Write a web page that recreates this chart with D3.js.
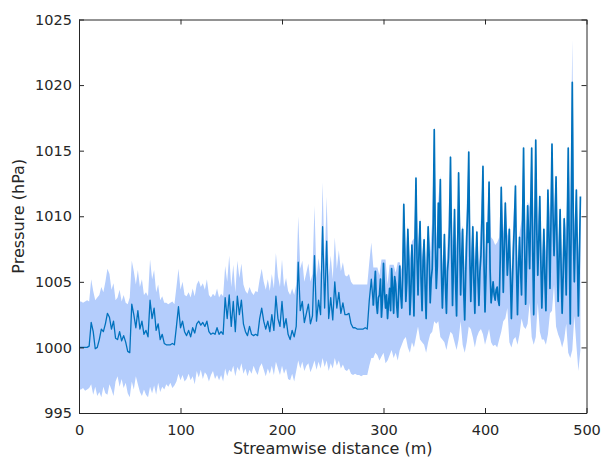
<!DOCTYPE html>
<html>
<head>
<meta charset="utf-8">
<script src="https://cdn.jsdelivr.net/npm/d3@7/dist/d3.min.js"></script>
<style>
  html, body { margin: 0; padding: 0; background: #ffffff; }
  svg { display: block; }
</style>
</head>
<body>
<svg id="chart" width="601" height="458"></svg>
<script>
// ---- Data ----
// Pressure line, 0–288 m sampled every 2 m
const coarseStart = 0, coarseStep = 2;
const pressureCoarse = [
  1000.0,1000.0,1000.0,1000.0,1000.0,1000.1,1001.9,1001.2,999.9,1000.0,
  1000.6,1001.4,1001.2,1001.8,1002.6,1002.3,1001.4,1002.0,1000.7,1000.6,
  1001.2,1000.5,1000.9,1000.4,999.7,999.6,1003.3,1002.5,1001.5,1002.8,
  1001.4,1002.0,1001.0,1001.3,1000.8,1003.6,1002.2,1003.0,1001.3,1001.8,
  1000.6,1001.0,1000.3,1000.2,1000.2,1000.2,1000.3,1000.2,1001.6,1003.1,
  1001.5,1002.0,1001.2,1000.9,1001.3,1000.8,1001.5,1001.1,1001.8,1002.0,
  1001.7,1001.9,1001.6,1002.0,1001.2,1001.0,1001.1,1001.0,1001.5,1001.0,
  1001.2,1001.0,1003.8,1002.2,1004.0,1001.6,1003.5,1001.2,1003.9,1002.5,
  1003.6,1001.8,1001.2,1000.9,1001.6,1001.0,1000.9,1001.0,1000.9,1002.2,
  1003.0,1002.0,1001.4,1002.0,1001.2,1002.5,1001.3,1003.9,1002.2,1001.6,
  1003.5,1001.5,1002.2,1001.0,1000.6,1001.3,1000.8,1001.6,1006.5,1002.8,
  1003.5,1001.9,1002.6,1003.3,1001.8,1002.4,1007.0,1002.0,1003.6,1002.5,
  1009.2,1003.0,1008.1,1002.2,1003.8,1002.1,1005.0,1003.0,1004.2,1002.6,
  1003.4,1002.5,1002.5,1002.6,1001.8,1001.5,1001.5,1001.4,1001.4,1001.4,
  1001.4,1001.5,1001.4,1003.6,1005.2
];
// Pressure line, 290–494 m sampled every 1 m
const fineStart = 290, fineStep = 1;
const pressureFine = [
  1003.2,1004.6,1005.8,1003.4,1002.6,1003.8,1004.0,1005.2,1002.3,1003.6,
  1006.4,1004.2,1003.0,1004.0,1002.2,1003.4,1004.5,1002.8,1006.0,1004.6,
  1002.6,1005.4,1004.8,1003.2,1002.3,1004.4,1006.2,1004.0,1003.0,1005.6,
  1010.9,1007.2,1003.5,1005.0,1009.0,1006.4,1002.5,1004.2,1007.8,1005.6,
  1002.4,1008.0,1012.9,1006.8,1004.0,1007.4,1009.6,1005.2,1002.8,1006.6,
  1008.2,1004.6,1002.2,1006.0,1009.2,1007.0,1003.4,1005.2,1006.0,1009.4,
  1016.6,1008.0,1004.5,1006.2,1011.0,1007.6,1012.8,1006.0,1003.0,1005.4,
  1008.6,1004.8,1002.6,1005.8,1006.8,1009.2,1014.5,1007.8,1003.2,1006.4,
  1010.5,1005.0,1002.4,1007.2,1013.3,1008.4,1004.0,1006.8,1009.0,1004.4,
  1002.1,1005.6,1008.4,1010.6,1014.9,1007.0,1003.5,1006.2,1009.2,1005.0,
  1002.6,1006.4,1008.8,1005.4,1003.2,1005.8,1007.0,1009.8,1013.8,1006.4,
  1002.7,1005.6,1009.5,1008.0,1012.6,1006.0,1003.4,1004.2,1005.0,1004.0,
  1003.6,1004.4,1004.6,1003.6,1003.2,1006.8,1012.2,1008.4,1004.2,1007.6,
  1011.0,1008.2,1005.5,1007.0,1009.0,1005.4,1002.2,1005.0,1007.5,1009.6,
  1012.3,1006.2,1002.5,1005.8,1008.4,1006.0,1004.0,1009.4,1015.2,1008.0,
  1003.3,1006.6,1010.8,1008.6,1006.0,1010.4,1015.2,1007.4,1002.5,1008.8,
  1015.8,1009.0,1005.5,1008.2,1011.5,1006.6,1003.0,1006.0,1009.0,1005.2,
  1002.8,1007.0,1012.0,1008.4,1004.5,1009.6,1015.5,1010.2,1007.0,1009.4,
  1013.0,1007.6,1003.5,1006.8,1010.5,1006.0,1002.6,1005.4,1009.8,1007.2,
  1004.0,1008.6,1015.2,1007.8,1001.8,1010.2,1020.2,1009.0,1005.0,1008.6,
  1012.0,1007.0,1002.4,1006.8,1011.5
];
// Shaded band, 0–494 m sampled every 2 m
const bandStart = 0, bandStep = 2;
const bandUpper = [
  1003.5,1003.5,1003.4,1003.5,1003.6,1003.5,1005.2,1004.3,1003.6,1003.8,
  1004.0,1004.6,1004.2,1005.0,1006.0,1005.6,1004.4,1004.9,1003.6,1003.8,
  1004.4,1003.5,1004.0,1003.4,1003.3,1003.8,1006.6,1005.8,1004.8,1005.9,
  1004.6,1005.2,1004.0,1004.2,1003.9,1006.7,1005.2,1005.9,1004.2,1004.8,
  1003.6,1003.9,1003.4,1003.4,1003.3,1003.4,1003.5,1003.3,1004.6,1006.0,
  1004.4,1005.0,1004.0,1003.9,1004.2,1003.8,1004.5,1003.9,1004.8,1005.1,
  1004.6,1004.9,1004.4,1005.2,1004.0,1003.8,1004.1,1003.9,1004.5,1003.8,
  1004.1,1003.9,1006.2,1005.0,1007.0,1004.6,1006.3,1004.2,1006.6,1005.3,
  1006.4,1004.8,1004.3,1004.1,1004.6,1004.2,1004.0,1004.3,1004.2,1005.2,
  1006.0,1005.0,1004.4,1005.2,1004.3,1005.6,1004.5,1007.2,1005.4,1004.6,
  1006.7,1004.6,1005.3,1004.3,1004.0,1004.5,1004.0,1004.8,1010.0,1006.0,
  1006.6,1005.0,1005.7,1006.4,1005.0,1005.6,1010.8,1005.3,1006.8,1005.6,
  1012.6,1006.2,1011.5,1005.4,1007.0,1005.2,1008.4,1006.0,1007.4,1005.8,
  1006.5,1005.5,1005.4,1005.6,1005.0,1004.8,1004.8,1004.8,1004.8,1004.8,
  1004.8,1004.8,1004.8,1006.5,1008.0,1006.1,1006.1,1006.1,1005.5,1006.7,
  1006.7,1006.7,1004.8,1006.3,1006.3,1006.3,1005.7,1006.5,1006.5,1005.9,
  1011.2,1007.5,1009.3,1006.7,1008.1,1008.3,1013.2,1007.7,1009.9,1006.9,
  1008.5,1006.3,1009.5,1007.3,1009.7,1016.9,1008.3,1011.3,1013.1,1006.3,
  1008.9,1006.1,1009.5,1014.8,1008.1,1010.8,1007.5,1013.6,1008.7,1009.3,
  1005.9,1010.9,1015.2,1007.3,1009.5,1006.7,1009.1,1006.1,1010.1,1014.1,
  1006.7,1009.8,1012.9,1008.4,1008.2,1007.8,1008.0,1008.4,1012.5,1008.7,
  1011.3,1008.5,1009.3,1005.7,1009.9,1012.6,1006.5,1008.7,1009.7,1015.5,
  1008.3,1011.1,1010.7,1015.5,1009.1,1016.1,1009.3,1011.8,1006.9,1009.3,
  1007.3,1012.3,1009.9,1015.8,1010.5,1013.3,1007.9,1010.8,1006.3,1010.1,
  1008.9,1015.5,1010.5,1023.5,1009.3,1012.3,1007.1,1011.8
];
const bandLower = [
  996.8,996.8,996.9,996.7,996.8,996.9,997.2,996.4,997.0,996.3,
  996.6,996.2,997.0,996.5,996.4,997.2,996.8,996.3,997.4,997.8,
  997.0,997.6,996.9,997.3,996.5,996.2,997.4,996.8,997.8,997.2,
  996.6,996.3,996.8,996.4,996.2,997.0,996.5,997.1,996.4,997.3,
  996.6,997.0,996.8,997.2,997.0,997.3,996.9,997.1,997.4,998.0,
  997.5,997.9,997.4,997.6,998.0,997.5,997.8,997.2,998.2,997.7,
  998.3,997.6,998.1,997.9,997.4,997.9,998.2,997.6,997.9,997.5,
  997.9,997.4,998.4,997.8,998.3,998.1,998.6,997.8,998.5,998.2,
  998.8,998.0,998.4,997.8,998.3,998.0,998.6,998.2,997.9,998.5,
  998.8,998.3,997.8,998.4,998.0,998.6,997.9,998.9,998.4,997.9,
  998.6,998.0,998.4,997.6,997.5,998.0,997.4,998.2,999.0,998.4,
  998.9,998.2,998.6,998.8,998.1,998.5,999.0,998.3,998.9,998.4,
  999.2,998.5,999.0,998.2,998.8,998.4,999.2,998.6,999.0,998.4,
  998.7,998.3,998.2,998.4,998.0,997.9,998.0,997.9,997.9,997.8,
  997.9,997.9,997.9,998.6,999.2,999.2,999.6,999.4,999.0,999.3,
  999.6,998.8,999.0,999.4,999.8,999.2,999.6,999.0,999.8,1000.2,
  1000.6,1000.8,1000.0,999.6,1000.4,1000.0,1000.8,1001.6,1000.6,1000.4,
  1000.2,999.6,1000.4,1001.0,1001.2,1002.0,1001.8,1002.0,1000.8,1000.6,
  1000.4,999.8,1000.6,1001.2,1001.0,1000.4,999.8,1000.6,1002.0,1000.2,
  999.6,1000.4,1001.6,1001.4,1000.8,1000.0,1000.8,1001.2,1001.4,1001.0,
  1000.2,1000.8,1001.4,1000.4,1000.1,1000.2,1000.0,1000.6,1001.2,1002.0,
  1002.2,1003.0,1000.4,1000.0,1000.6,1000.8,1000.2,1001.0,1002.2,1001.6,
  1001.4,1001.8,1003.4,1000.8,1000.2,1000.8,1003.4,1001.2,1000.6,1000.6,
  1000.2,1001.0,1002.6,1002.8,1004.8,1001.6,1001.0,1000.6,1000.0,1000.6,
  1001.8,999.6,999.2,999.8,1002.4,1000.2,998.2,999.8
];
const xTicks = [0, 100, 200, 300, 400, 500];
const yTicks = [995, 1000, 1005, 1010, 1015, 1020, 1025];
const xLabel = "Streamwise distance (m)";
const yLabel = "Pressure (hPa)";

// ---- Build records ----
const coarseRecords = pressureCoarse.map((p, i) => ({ d: coarseStart + i * coarseStep, p }));
const fineRecords = pressureFine.map((p, i) => ({ d: fineStart + i * fineStep, p }));
const bandRecords = bandUpper.map((hi, i) => ({ d: bandStart + i * bandStep, hi, lo: bandLower[i] }));

// ---- Layout ----
const svg = d3.select("#chart");
const plotLeft = 79, plotRight = 586.5, plotTop = 19.5, plotBottom = 413;
const x = d3.scaleLinear().domain([0, 500]).range([plotLeft, plotRight]);
const y = d3.scaleLinear().domain([995, 1025]).range([plotBottom, plotTop]);
const font = "'DejaVu Sans', 'Liberation Sans', sans-serif";
const axisColor = "#262626";
const lineColor = "#0072BD";

svg.append("rect").attr("width", 601).attr("height", 458).attr("fill", "#ffffff");

svg.append("clipPath").attr("id", "plotclip")
  .append("rect").attr("x", plotLeft).attr("y", plotTop)
  .attr("width", plotRight - plotLeft).attr("height", plotBottom - plotTop);

const plot = svg.append("g").attr("clip-path", "url(#plotclip)");

// band
plot.append("path")
  .datum(bandRecords)
  .attr("fill", "#b4cdfc")
  .attr("stroke", "none")
  .attr("d", d3.area().x(r => x(r.d)).y0(r => y(r.lo)).y1(r => y(r.hi)));

// line (one series; the denser stretch is drawn with a slightly heavier pen)
const lineGen = d3.line().x(r => x(r.d)).y(r => y(r.p));
plot.append("path")
  .datum(coarseRecords.concat(fineRecords.slice(0, 1)))
  .attr("fill", "none")
  .attr("stroke", lineColor)
  .attr("stroke-width", 1.3)
  .attr("stroke-linejoin", "round")
  .attr("d", lineGen);
plot.append("path")
  .datum(fineRecords)
  .attr("fill", "none")
  .attr("stroke", lineColor)
  .attr("stroke-width", 1.7)
  .attr("stroke-linejoin", "round")
  .attr("d", lineGen);

// ---- Axes ----
function style(g) {
  g.select(".domain").attr("stroke", axisColor).attr("stroke-width", 1);
  g.selectAll(".tick line").attr("stroke", axisColor).attr("stroke-width", 1);
  g.selectAll(".tick text").attr("fill", axisColor)
    .style("font-family", font).style("font-size", "14.5px");
}

svg.append("g").attr("transform", `translate(0,${plotBottom})`)
  .call(d3.axisBottom(x).tickValues(xTicks).tickFormat(d3.format("d"))
    .tickSizeInner(-5).tickSizeOuter(0).tickPadding(12))
  .call(style);

svg.append("g").attr("transform", `translate(${plotLeft},0)`)
  .call(d3.axisLeft(y).tickValues(yTicks).tickFormat(d3.format("d"))
    .tickSizeInner(-5).tickSizeOuter(0).tickPadding(7))
  .call(style);

svg.append("g").attr("transform", `translate(0,${plotTop})`)
  .call(d3.axisTop(x).tickValues(xTicks).tickFormat("")
    .tickSizeInner(-5).tickSizeOuter(0))
  .call(style);

svg.append("g").attr("transform", `translate(${plotRight},0)`)
  .call(d3.axisRight(y).tickValues(yTicks).tickFormat("")
    .tickSizeInner(-5).tickSizeOuter(0))
  .call(style);

// ---- Labels ----
svg.append("text")
  .attr("x", (plotLeft + plotRight) / 2).attr("y", 454)
  .attr("text-anchor", "middle")
  .attr("fill", axisColor)
  .style("font-family", font).style("font-size", "16px")
  .text(xLabel);

svg.append("text")
  .attr("transform", `translate(24,${(plotTop + plotBottom) / 2}) rotate(-90)`)
  .attr("text-anchor", "middle")
  .attr("fill", axisColor)
  .style("font-family", font).style("font-size", "16px")
  .text(yLabel);
</script>
</body>
</html>
